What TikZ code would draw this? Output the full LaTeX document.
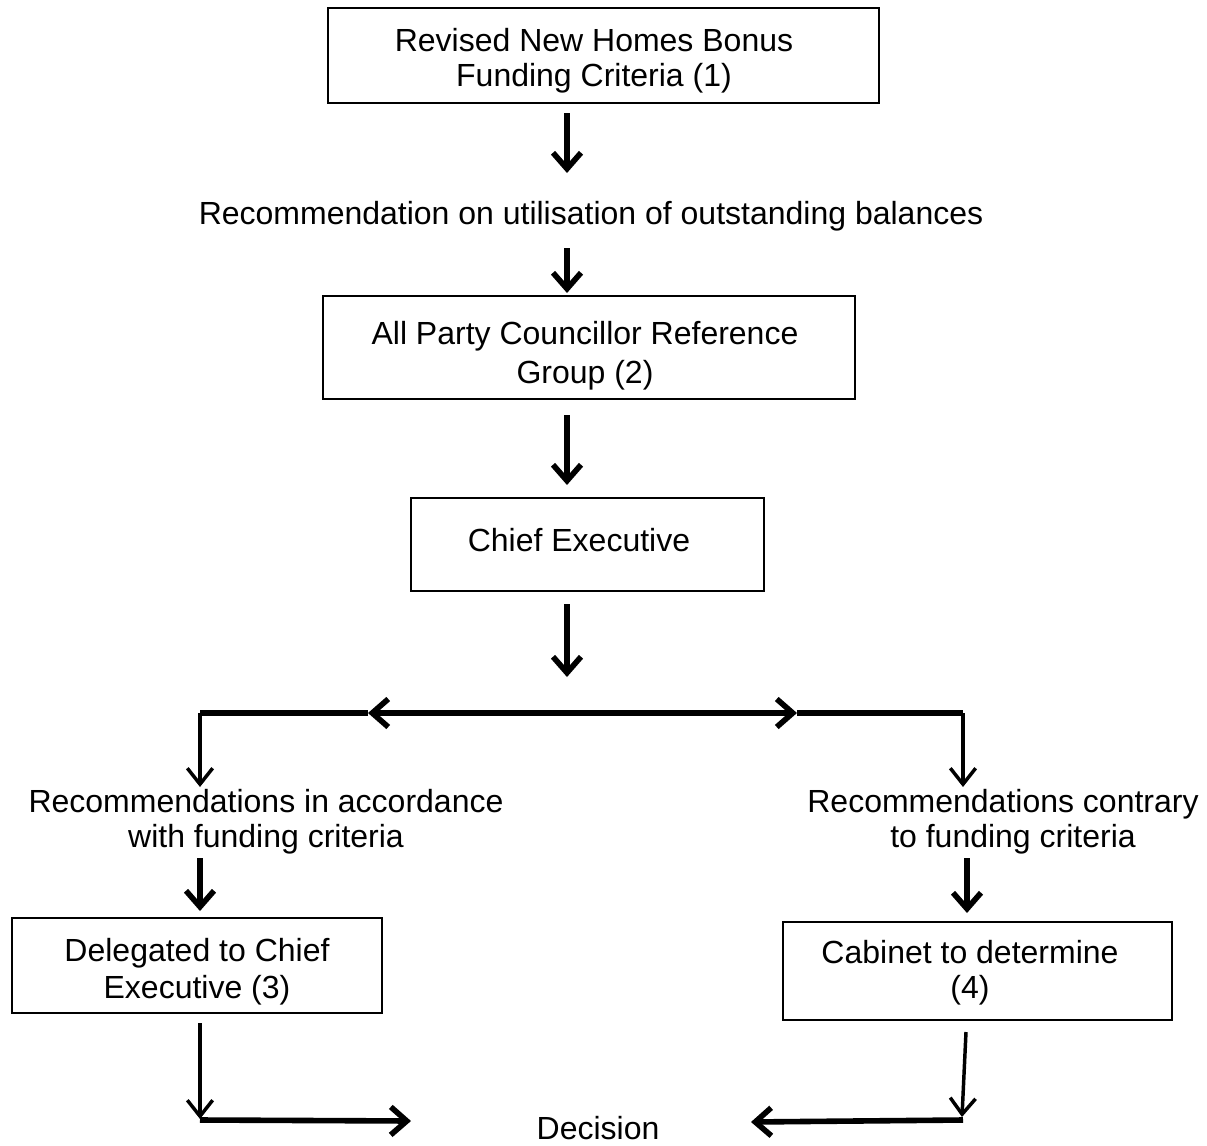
\documentclass[tikz,border=0pt]{standalone}
\usepackage{fontspec}
\setmainfont{Liberation Sans}
\usetikzlibrary{arrows.meta}
\begin{document}
\begin{tikzpicture}[x=0.75pt,y=-0.75pt,
  font=\fontsize{24}{26.25}\selectfont,
  box/.style={draw,line width=1.1pt,rectangle,inner sep=0pt},
  lbl/.style={align=center,inner sep=0pt},
  thick arrow/.style={line width=4.2pt,-{Straight Barb[length=12pt,width=21pt]}},
  thin arrow/.style={line width=2.6pt,-{Straight Barb[length=12pt,width=19pt]}},
  double arrow/.style={line width=4.2pt,{Straight Barb[length=12pt,width=21pt]}-{Straight Barb[length=12pt,width=21pt]}},
  thick line/.style={line width=4.2pt}]
\useasboundingbox (0,0) rectangle (1207,1146);
% boxes
\node[box,minimum width=413.25pt,minimum height=71.25pt] (b1) at (603.5,55.5) {};
\node[lbl] (t1) at (594,61) {Revised New Homes Bonus\\Funding Criteria (1)};
\node[lbl] (rec) at (591,216) {Recommendation on utilisation of outstanding balances};
\node[box,minimum width=399pt,minimum height=77.25pt] (b2) at (589,347.5) {};
\node[lbl,font=\fontsize{24}{29}\selectfont] (t2) at (585,356) {All Party Councillor Reference\\Group (2)};
\node[box,minimum width=264.75pt,minimum height=69.75pt] (b3) at (587.5,544.5) {};
\node[lbl] (t3) at (579,540) {Chief Executive};
\node[lbl] (accord) at (266,822) {Recommendations in accordance\\with funding criteria};
\node[lbl] (contrary) at (1003,822) {Recommendations contrary\\\hspace*{15pt}to funding criteria};
\node[box,minimum width=277.5pt,minimum height=71.25pt] (b4) at (197,965.5) {};
\node[lbl,font=\fontsize{24}{27.5}\selectfont] (t4) at (197,972) {Delegated to Chief\\Executive (3)};
\node[box,minimum width=291.75pt,minimum height=73.5pt] (b5) at (977.5,971) {};
\node[lbl] (t5) at (970,973) {Cabinet to determine\\(4)};
\node[lbl] (dec) at (598,1128) {Decision};
% connector end points
\coordinate (a1s) at (567,113);  \coordinate (a1e) at (567,173);
\coordinate (a2s) at (567,248);  \coordinate (a2e) at (567,293);
\coordinate (a3s) at (567,415);  \coordinate (a3e) at (567,485);
\coordinate (a4s) at (567,604);  \coordinate (a4e) at (567,677);
\coordinate (hl) at (200,713);   \coordinate (hr) at (963,713);
\coordinate (dl) at (368,713);   \coordinate (dr) at (797,713);
\coordinate (ll) at (200,787);   \coordinate (rr) at (963,787);
\coordinate (l2s) at (200,858);  \coordinate (l2e) at (200,911);
\coordinate (r2s) at (967,858);  \coordinate (r2e) at (967,913);
\coordinate (l3s) at (200,1023); \coordinate (l3e) at (200,1119);
\coordinate (r3s) at (966,1032); \coordinate (r3e) at (962,1117);
\coordinate (bl) at (200,1120);  \coordinate (blt) at (411,1121);
\coordinate (br) at (963,1120);  \coordinate (brt) at (751,1122);
% connectors
\draw[thick arrow] (a1s) -- (a1e);
\draw[thick arrow] (a2s) -- (a2e);
\draw[thick arrow] (a3s) -- (a3e);
\draw[thick arrow] (a4s) -- (a4e);
\draw[double arrow] (dl) -- (dr);
\draw[thick line] (dl) -- (hl);
\draw[thin arrow] (hl) -- (ll);
\draw[thick line] (dr) -- (hr);
\draw[thin arrow] (hr) -- (rr);
\draw[thick arrow] (l2s) -- (l2e);
\draw[thick arrow] (r2s) -- (r2e);
\draw[thin arrow] (l3s) -- (l3e);
\draw[thin arrow] (r3s) -- (r3e);
\draw[thick arrow] (bl) -- (blt);
\draw[thick arrow] (br) -- (brt);
\end{tikzpicture}
\end{document}
